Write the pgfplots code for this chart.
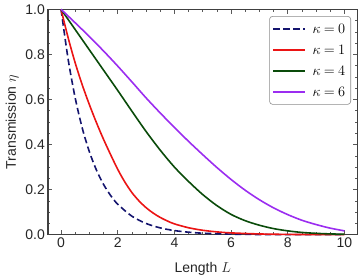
\documentclass[border=0pt]{standalone}
\usepackage{fontspec}
\setmainfont{Liberation Sans}
\usepackage{pgfplots}
\pgfplotsset{compat=1.18}
\definecolor{cnavy}{RGB}{20,20,110}
\definecolor{cred}{RGB}{235,20,20}
\definecolor{cgreen}{RGB}{10,75,10}
\definecolor{cpurple}{RGB}{155,45,240}
\begin{document}
\begin{tikzpicture}
\useasboundingbox (-48pt,-41.3pt) rectangle (314pt,234.7pt);
\begin{axis}[
  scale only axis, width=309.5pt, height=225.4pt,
  xmin=-0.46, xmax=10.46, ymin=0, ymax=1,
  xtick={0,2,4,6,8,10}, xticklabels={0,2,4,6,8,10},
  ytick={0,0.2,0.4,0.6,0.8,1}, yticklabels={0.0,0.2,0.4,0.6,0.8,1.0},
  minor x tick num=3, minor y tick num=3,
  tick align=inside, major tick length=4.5pt, minor tick length=2.5pt,
  tick style={black!65, line width=0.6pt},
  axis line style={black!75, line width=1.2pt},
  tick label style={font=\fontsize{14}{16}\selectfont, text=black!85},
  yticklabel style={inner sep=0pt, xshift=-3pt},
  xticklabel style={inner sep=0pt, yshift=-2.5pt},
  label style={font=\fontsize{14}{16}\selectfont, text=black!85},
  xlabel={Length $L$},
  ylabel={Transmission $\eta$},
  xlabel style={at={(axis description cs:0.5,-0.1655)}, anchor=base, inner sep=0pt},
  ylabel style={at={(axis description cs:-0.1034,0.5)}, anchor=base, inner sep=0pt},
  clip=false,
  legend cell align=left,
  legend style={at={(0.979,0.970)}, anchor=north east, draw=black!45, rounded corners=3pt,
    line width=0.6pt, fill=white, font=\fontsize{14.5}{17}\selectfont,
    inner xsep=3pt, inner ysep=4.5pt, row sep=5pt, column sep=4pt,
    nodes={inner xsep=2.5pt, inner ysep=2.5pt, text height=10.5pt, text depth=0.5pt}},
  legend image code/.code={\draw[#1] (0pt,0pt) -- (32pt,0pt);},
]
\addplot[cnavy, line width=1.6pt, dash pattern=on 6.5pt off 3.5pt, smooth] coordinates {
(0,1) (0.25,0.7788) (0.5,0.6065) (0.75,0.4724) (1,0.3679) (1.25,0.2865) (1.5,0.2231)
(1.75,0.1738) (2,0.1353) (2.5,0.0821) (3,0.0498) (3.5,0.0302) (4,0.0183) (4.5,0.0111)
(5,0.0067) (6,0.0025) (7,0.0009) (8,0.0003) (9,0.0001) (10,0.00005)};
\addlegendentry{$\kappa\mkern-1mu=\mkern-1mu0$}
\addplot[cred, line width=1.6pt, smooth] coordinates {
(0,1) (0.25,0.874) (0.5,0.762) (0.75,0.664) (1,0.577) (1.25,0.497) (1.5,0.423)
(1.75,0.355) (2,0.29) (2.25,0.234) (2.5,0.187) (2.75,0.150) (3,0.120) (3.25,0.096)
(3.5,0.0765) (3.75,0.061) (4,0.048) (4.5,0.0308) (5,0.0196) (5.5,0.0125) (6,0.008)
(7,0.0033) (8,0.0013) (9,0.0005) (10,0.0002)};
\addlegendentry{$\kappa\mkern-1mu=\mkern-1mu1$}
\addplot[cgreen, line width=1.6pt, smooth] coordinates {
(0,1) (0.5,0.91) (1,0.82) (1.5,0.73) (2,0.64) (2.5,0.548) (3,0.458) (3.5,0.375)
(4,0.30) (4.5,0.236) (5,0.178) (5.5,0.129) (6,0.090) (6.5,0.062) (7,0.042) (7.5,0.027)
(8,0.017) (8.5,0.010) (9,0.006) (9.5,0.0035) (10,0.002)};
\addlegendentry{$\kappa\mkern-1mu=\mkern-1mu4$}
\addplot[cpurple, line width=1.6pt, smooth] coordinates {
(0,1) (0.5,0.94) (1,0.879) (1.5,0.815) (2,0.748) (2.5,0.678) (3,0.607) (3.5,0.54)
(4,0.476) (4.5,0.414) (5,0.355) (5.5,0.298) (6,0.245) (6.5,0.197) (7,0.155) (7.5,0.119)
(8,0.089) (8.5,0.064) (9,0.045) (9.5,0.029) (10,0.017)};
\addlegendentry{$\kappa\mkern-1mu=\mkern-1mu6$}
\end{axis}
\end{tikzpicture}
\end{document}
